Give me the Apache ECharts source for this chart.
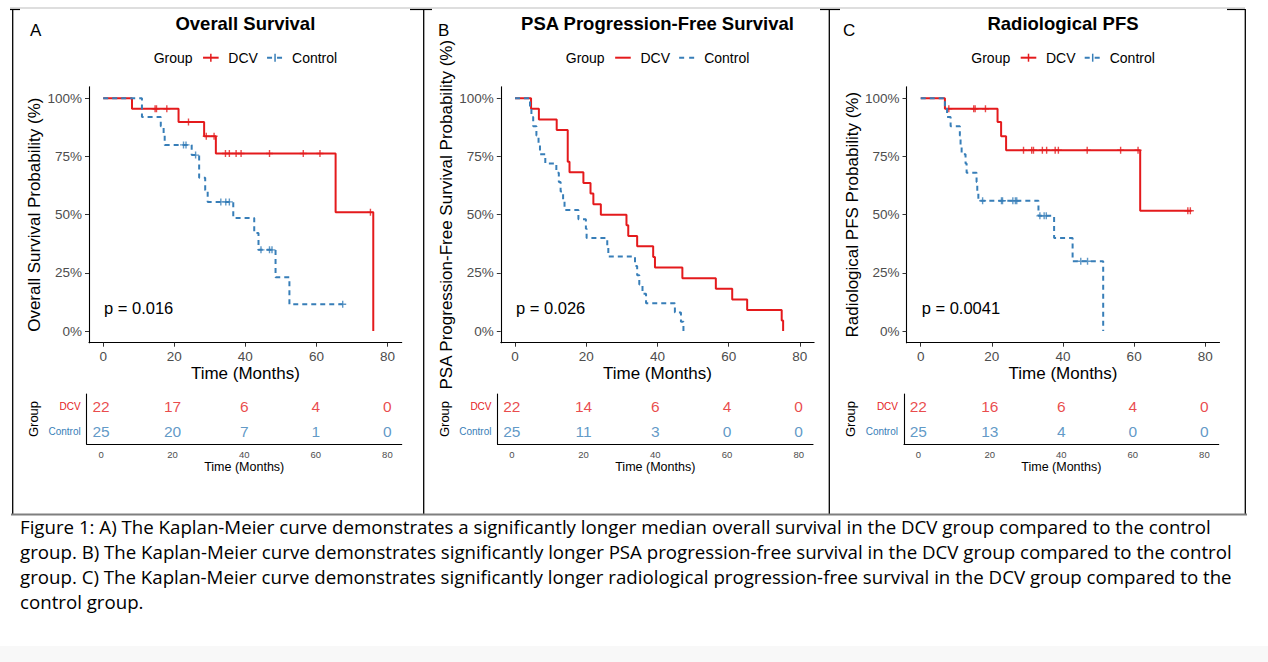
<!DOCTYPE html>
<html>
<head>
    <meta charset="utf-8">
    <title>Kaplan-Meier curves</title>
    <script type="text/javascript" src="https://cdn.jsdelivr.net/npm/echarts@6/dist/echarts.min.js"></script>
</head>
<style type="text/css">
    body {
        margin: 0;
        background: #fff;
        width: 1268px;
        height: 662px;
        overflow: hidden;
        position: relative;
    }
    #chart {
        position: absolute;
        left: 0;
        top: 0;
        width: 1268px;
        height: 520px;
    }
    #caption {
        position: absolute;
        left: 20px;
        top: 514px;
        font-family: 'Open Sans', 'Liberation Sans', Arial, sans-serif;
        font-size: 17.5px;
        line-height: 25px;
        color: #000;
        white-space: nowrap;
    }
    #band {
        position: absolute;
        left: 0;
        top: 646px;
        width: 1268px;
        height: 16px;
        background: #f8f8f8;
    }
</style>
<body>
    <div id="chart"></div>
    <div id="caption"><span id="cap1">Figure 1: A) The Kaplan-Meier curve demonstrates a significantly longer median overall survival in the DCV group compared to the control</span><br>group. B) The Kaplan-Meier curve demonstrates significantly longer PSA progression-free survival in the DCV group compared to the control<br>group. C) The Kaplan-Meier curve demonstrates significantly longer radiological progression-free survival in the DCV group compared to the<br>control group.</div>
    <div id="band"></div>

    <script type="text/javascript">
        var RED = '#E41A1C';
        var BLUE = '#377EB8';
        var FONT = "'Liberation Sans', Arial, sans-serif";

        var xBreaks = [0, 20, 40, 60, 80];
        var yBreaks = [0, 25, 50, 75, 100];
        var riskTimes = [0, 20, 40, 60, 80];
        var groups = ['Control', 'DCV'];

        // A) overall survival: [months, survival %] at every drop
        var osDCV = [[0, 100], [8.1, 95.5], [21.2, 89.8], [28.4, 83.7], [31.7, 76.3], [65.4, 51.0], [76.0, 0]];
        var osCtrl = [[0, 100], [10.9, 92], [16.2, 88], [17.0, 84], [17.3, 80], [24.9, 75.6], [27.0, 65.9], [28.7, 60.5],
            [29.4, 55.5], [36.6, 48.6], [42.5, 42.1], [43.7, 34.9], [48.5, 23.1], [52.4, 11.5], [67.4, 11.5]];
        var osDCVCens = [14.6, 15.0, 17.9, 24.0, 29.0, 31.2, 34.4, 35.5, 37.4, 38.8, 46.8, 56.3, 61.0, 75.2];
        var osCtrlCens = [22.6, 23.3, 26.0, 33.1, 34.5, 35.5, 44.4, 46.8, 47.5, 67.4];
        var osRiskDCV = [22, 17, 6, 4, 0];
        var osRiskCtrl = [25, 20, 7, 1, 0];

        // B) PSA progression-free survival (no censor marks drawn)
        var psaDCV = [[0, 100], [4.5, 95.5], [6.7, 90.9], [11.7, 86.4], [14.8, 72.7], [15.3, 68.2], [19.2, 63.6], [21.2, 59.1],
            [22.0, 54.5], [24.1, 50.0], [31.3, 45.5], [31.8, 40.9], [34.3, 36.4], [38.8, 31.8], [39.3, 27.3], [47.0, 22.7],
            [56.4, 18.2], [61.0, 13.6], [65.2, 9.1], [74.9, 4.5], [75.3, 0]];
        var psaCtrl = [[0, 100], [4.2, 96], [4.6, 92], [5.1, 88], [6.0, 84], [6.6, 80], [7.0, 76], [8.5, 72], [11.6, 68],
            [12.3, 64], [12.8, 60], [13.5, 56], [13.9, 52], [17.8, 48], [19.9, 44], [20.1, 40], [25.9, 36], [26.2, 32],
            [33.7, 28], [34.3, 24], [34.9, 20], [35.8, 16], [36.8, 12], [44.9, 8], [46.6, 4], [47.3, 0]];
        var psaDCVCens = [];
        var psaCtrlCens = [];
        var psaRiskDCV = [22, 14, 6, 4, 0];
        var psaRiskCtrl = [25, 11, 3, 0, 0];

        // C) radiological PFS
        var rpfsDCV = [[0, 100], [6.8, 95.5], [21.6, 89.8], [22.6, 83.7], [24.0, 77.7], [61.7, 51.7], [76.1, 51.7]];
        var rpfsCtrl = [[0, 100], [6.8, 96], [7.4, 92], [8.4, 88], [11.0, 84], [11.2, 80], [11.5, 76], [12.6, 72], [12.9, 68],
            [15.7, 64], [15.9, 60], [16.2, 56], [33.1, 49.5], [37.5, 40], [42.7, 30], [51.3, 0]];
        var rpfsDCVCens = [7.9, 14.9, 15.3, 18.2, 28.9, 31.2, 31.7, 34.2, 35.4, 37.8, 38.7, 46.8, 56.2, 61.1, 75.1, 75.8];
        var rpfsCtrlCens = [17.4, 22.7, 23.0, 25.9, 26.6, 27.0, 33.5, 34.7, 35.3, 45.0, 46.9];
        var rpfsRiskDCV = [22, 16, 6, 4, 0];
        var rpfsRiskCtrl = [25, 13, 4, 0, 0];

        var titles = ['Overall Survival', 'PSA Progression-Free Survival', 'Radiological PFS'];
        var letters = ['A', 'B', 'C'];
        var yNames = ['Overall Survival Probability (%)', 'PSA Progression-Free Survival Probability (%)', 'Radiological PFS Probability (%)'];
        var pValues = ['p = 0.016', 'p = 0.026', 'p = 0.0041'];

        var curves = [
            [osDCV, osCtrl, osDCVCens, osCtrlCens, osRiskDCV, osRiskCtrl],
            [psaDCV, psaCtrl, psaDCVCens, psaCtrlCens, psaRiskDCV, psaRiskCtrl],
            [rpfsDCV, rpfsCtrl, rpfsDCVCens, rpfsCtrlCens, rpfsRiskDCV, rpfsRiskCtrl]
        ];

        // page layout (pixels)
        var layout = [
            { left: 89, width: 312.7, rLeft: 86.7, rWidth: 315, letterX: 30, pX: 104 },
            { left: 500.8, width: 313.3, rLeft: 497.5, rWidth: 315.5, letterX: 438, pX: 516 },
            { left: 906.5, width: 313, rLeft: 904, rWidth: 314.7, letterX: 843, pX: 921.7 }
        ];

        var plusPath = 'path://M2.8,0H4.2V7H2.8Z M0,2.8H7V4.2H0Z';

        // caption: first line should run to about x = 1211
        var cap = document.getElementById('caption');
        var w1 = document.getElementById('cap1').getBoundingClientRect().width;
        if (w1 > 0) cap.style.fontSize = (17.5 * 1191 / w1).toFixed(2) + 'px';

        function survAt(curve, t) {
            var s = curve[0][1];
            for (var i = 0; i < curve.length; i++) {
                if (curve[i][0] <= t) s = curve[i][1];
            }
            return s;
        }

        var grid = [], xAxis = [], yAxis = [], series = [], graphic = [];

        function text(x, y, str, size, opts) {
            opts = opts || {};
            graphic.push({
                type: 'text',
                x: x,
                y: y,
                silent: true,
                style: {
                    text: str,
                    fill: opts.color || '#000',
                    font: (opts.weight || 'normal') + ' ' + size + 'px ' + FONT,
                    align: opts.align || 'left',
                    verticalAlign: 'middle'
                }
            });
        }

        function line(x1, y1, x2, y2, color, width, dash) {
            graphic.push({
                type: 'line',
                silent: true,
                shape: { x1: x1, y1: y1, x2: x2, y2: y2 },
                style: { stroke: color, lineWidth: width, lineDash: dash || null }
            });
        }

        function legend(cx, y, cross) {
            text(cx - 91.7, y, 'Group', 14);
            line(cx - 42.3, y, cx - 26.7, y, RED, 2);
            if (cross) line(cx - 34.5, y - 4, cx - 34.5, y + 4, RED, 1.5);
            text(cx - 17, y, 'DCV', 14);
            line(cx + 21.7, y, cx + 37.7, y, BLUE, 2, [5, 5]);
            if (cross) line(cx + 29.7, y - 4, cx + 29.7, y + 4, BLUE, 1.5);
            text(cx + 46.7, y, 'Control', 14);
        }

        // frame of the figure table
        line(10, 8, 1245, 8, '#bdbdbd', 1);
        [[10, 20], [410, 432], [820, 840], [1227, 1245]].forEach(function(c) {
            line(c[0], 9.5, c[1], 9.5, '#000', 1.2);
        });
        [12.7, 423.7, 829.3, 1245.3].forEach(function(x) {
            line(x, 9, x, 514, '#000', 1.3);
        });
        line(11, 514.5, 1247, 514.5, '#7f7f7f', 2);

        for (var i = 0; i < 3; i++) {
            var L = layout[i];
            var c = curves[i];
            var cx = L.left + L.width / 2;

            grid.push({ left: L.left, top: 86.7, width: L.width, height: 256, containLabel: false, outerBoundsMode: 'none' });
            grid.push({ left: L.rLeft, top: 394, width: L.rWidth, height: 50, containLabel: false, outerBoundsMode: 'none' });

            xAxis.push({
                gridIndex: 2 * i, type: 'value', min: -4, max: 84,
                axisLine: { show: true, onZero: false, lineStyle: { color: '#000', width: 1.1 } },
                axisTick: { show: true, length: 4, customValues: xBreaks, lineStyle: { color: '#333' } },
                axisLabel: { customValues: xBreaks, fontSize: 13.5, color: '#4d4d4d', margin: 7, fontFamily: FONT },
                splitLine: { show: false },
                name: 'Time (Months)', nameLocation: 'middle', nameGap: 21,
                nameTextStyle: { fontSize: 17, color: '#000', fontFamily: FONT }
            });
            yAxis.push({
                gridIndex: 2 * i, type: 'value', min: -5, max: 105,
                axisLine: { show: true, onZero: false, lineStyle: { color: '#000', width: 1.1 } },
                axisTick: { show: true, length: 4, customValues: yBreaks, lineStyle: { color: '#333' } },
                axisLabel: { customValues: yBreaks, formatter: '{value}%', fontSize: 13.5, color: '#4d4d4d', margin: 7, fontFamily: FONT },
                splitLine: { show: false },
                name: yNames[i], nameLocation: 'middle', nameRotate: 90, nameGap: 46,
                nameTextStyle: { fontSize: 17, color: '#000', fontFamily: FONT }
            });

            xAxis.push({
                gridIndex: 2 * i + 1, type: 'value', min: -4, max: 84,
                axisLine: { show: true, onZero: false, lineStyle: { color: '#000', width: 1.1 } },
                axisTick: { show: false },
                axisLabel: { customValues: riskTimes, fontSize: 9.5, color: '#4d4d4d', margin: 5.5, fontFamily: FONT },
                splitLine: { show: false },
                name: 'Time (Months)', nameLocation: 'middle', nameGap: 16.5,
                nameTextStyle: { fontSize: 12.5, color: '#000', fontFamily: FONT }
            });
            yAxis.push({
                gridIndex: 2 * i + 1, type: 'category', data: groups,
                axisLine: { show: true, onZero: false, lineStyle: { color: '#000', width: 1.1 } },
                axisTick: { show: false },
                axisLabel: {
                    fontSize: 10, margin: 6, fontFamily: FONT,
                    color: function(v) { return v === 'DCV' ? RED : BLUE; }
                },
                splitLine: { show: false },
                name: 'Group', nameLocation: 'middle', nameRotate: 90, nameGap: 47,
                nameTextStyle: { fontSize: 13, color: '#000', fontFamily: FONT }
            });

            series.push({
                name: 'DCV', type: 'line', xAxisIndex: 2 * i, yAxisIndex: 2 * i,
                step: 'end', showSymbol: false, symbol: 'none', data: c[0],
                lineStyle: { color: RED, width: 2 }, itemStyle: { color: RED }
            });
            series.push({
                name: 'Control', type: 'line', xAxisIndex: 2 * i, yAxisIndex: 2 * i,
                step: 'end', showSymbol: false, symbol: 'none', data: c[1],
                lineStyle: { color: BLUE, width: 2, type: [5, 4] }, itemStyle: { color: BLUE }
            });
            if (c[2].length) {
                series.push({
                    name: 'DCV', type: 'scatter', xAxisIndex: 2 * i, yAxisIndex: 2 * i,
                    symbol: plusPath, symbolSize: 7, itemStyle: { color: RED },
                    data: c[2].map(function(t) { return [t, survAt(c[0], t)]; })
                });
            }
            if (c[3].length) {
                series.push({
                    name: 'Control', type: 'scatter', xAxisIndex: 2 * i, yAxisIndex: 2 * i,
                    symbol: plusPath, symbolSize: 7, itemStyle: { color: BLUE },
                    data: c[3].map(function(t) { return [t, survAt(c[1], t)]; })
                });
            }
            [['DCV', c[4], RED], ['Control', c[5], BLUE]].forEach(function(r) {
                series.push({
                    name: r[0] + ' at risk', type: 'scatter', xAxisIndex: 2 * i + 1, yAxisIndex: 2 * i + 1,
                    symbol: 'circle', symbolSize: 0.1, itemStyle: { color: 'rgba(0,0,0,0)' },
                    label: {
                        show: true, position: 'inside', color: r[2], fontSize: 15.5, fontFamily: FONT,
                        formatter: function(p) { return p.value[2]; }
                    },
                    data: riskTimes.map(function(t, j) { return [t, r[0], r[1][j]]; })
                });
            });

            text(cx, 23.5, titles[i], 18.5, { weight: 'bold', align: 'center' });
            text(L.letterX, 30, letters[i], 17);
            text(L.pX, 308.3, pValues[i], 16.5);
            legend(cx, 57.7, i !== 1);
        }

        var chart = echarts.init(document.getElementById('chart'), null, { renderer: 'svg' });
        chart.setOption({
            animation: false,
            backgroundColor: '#fff',
            textStyle: { fontFamily: FONT },
            grid: grid,
            xAxis: xAxis,
            yAxis: yAxis,
            series: series,
            graphic: graphic
        });
    </script>
</body>
</html>
